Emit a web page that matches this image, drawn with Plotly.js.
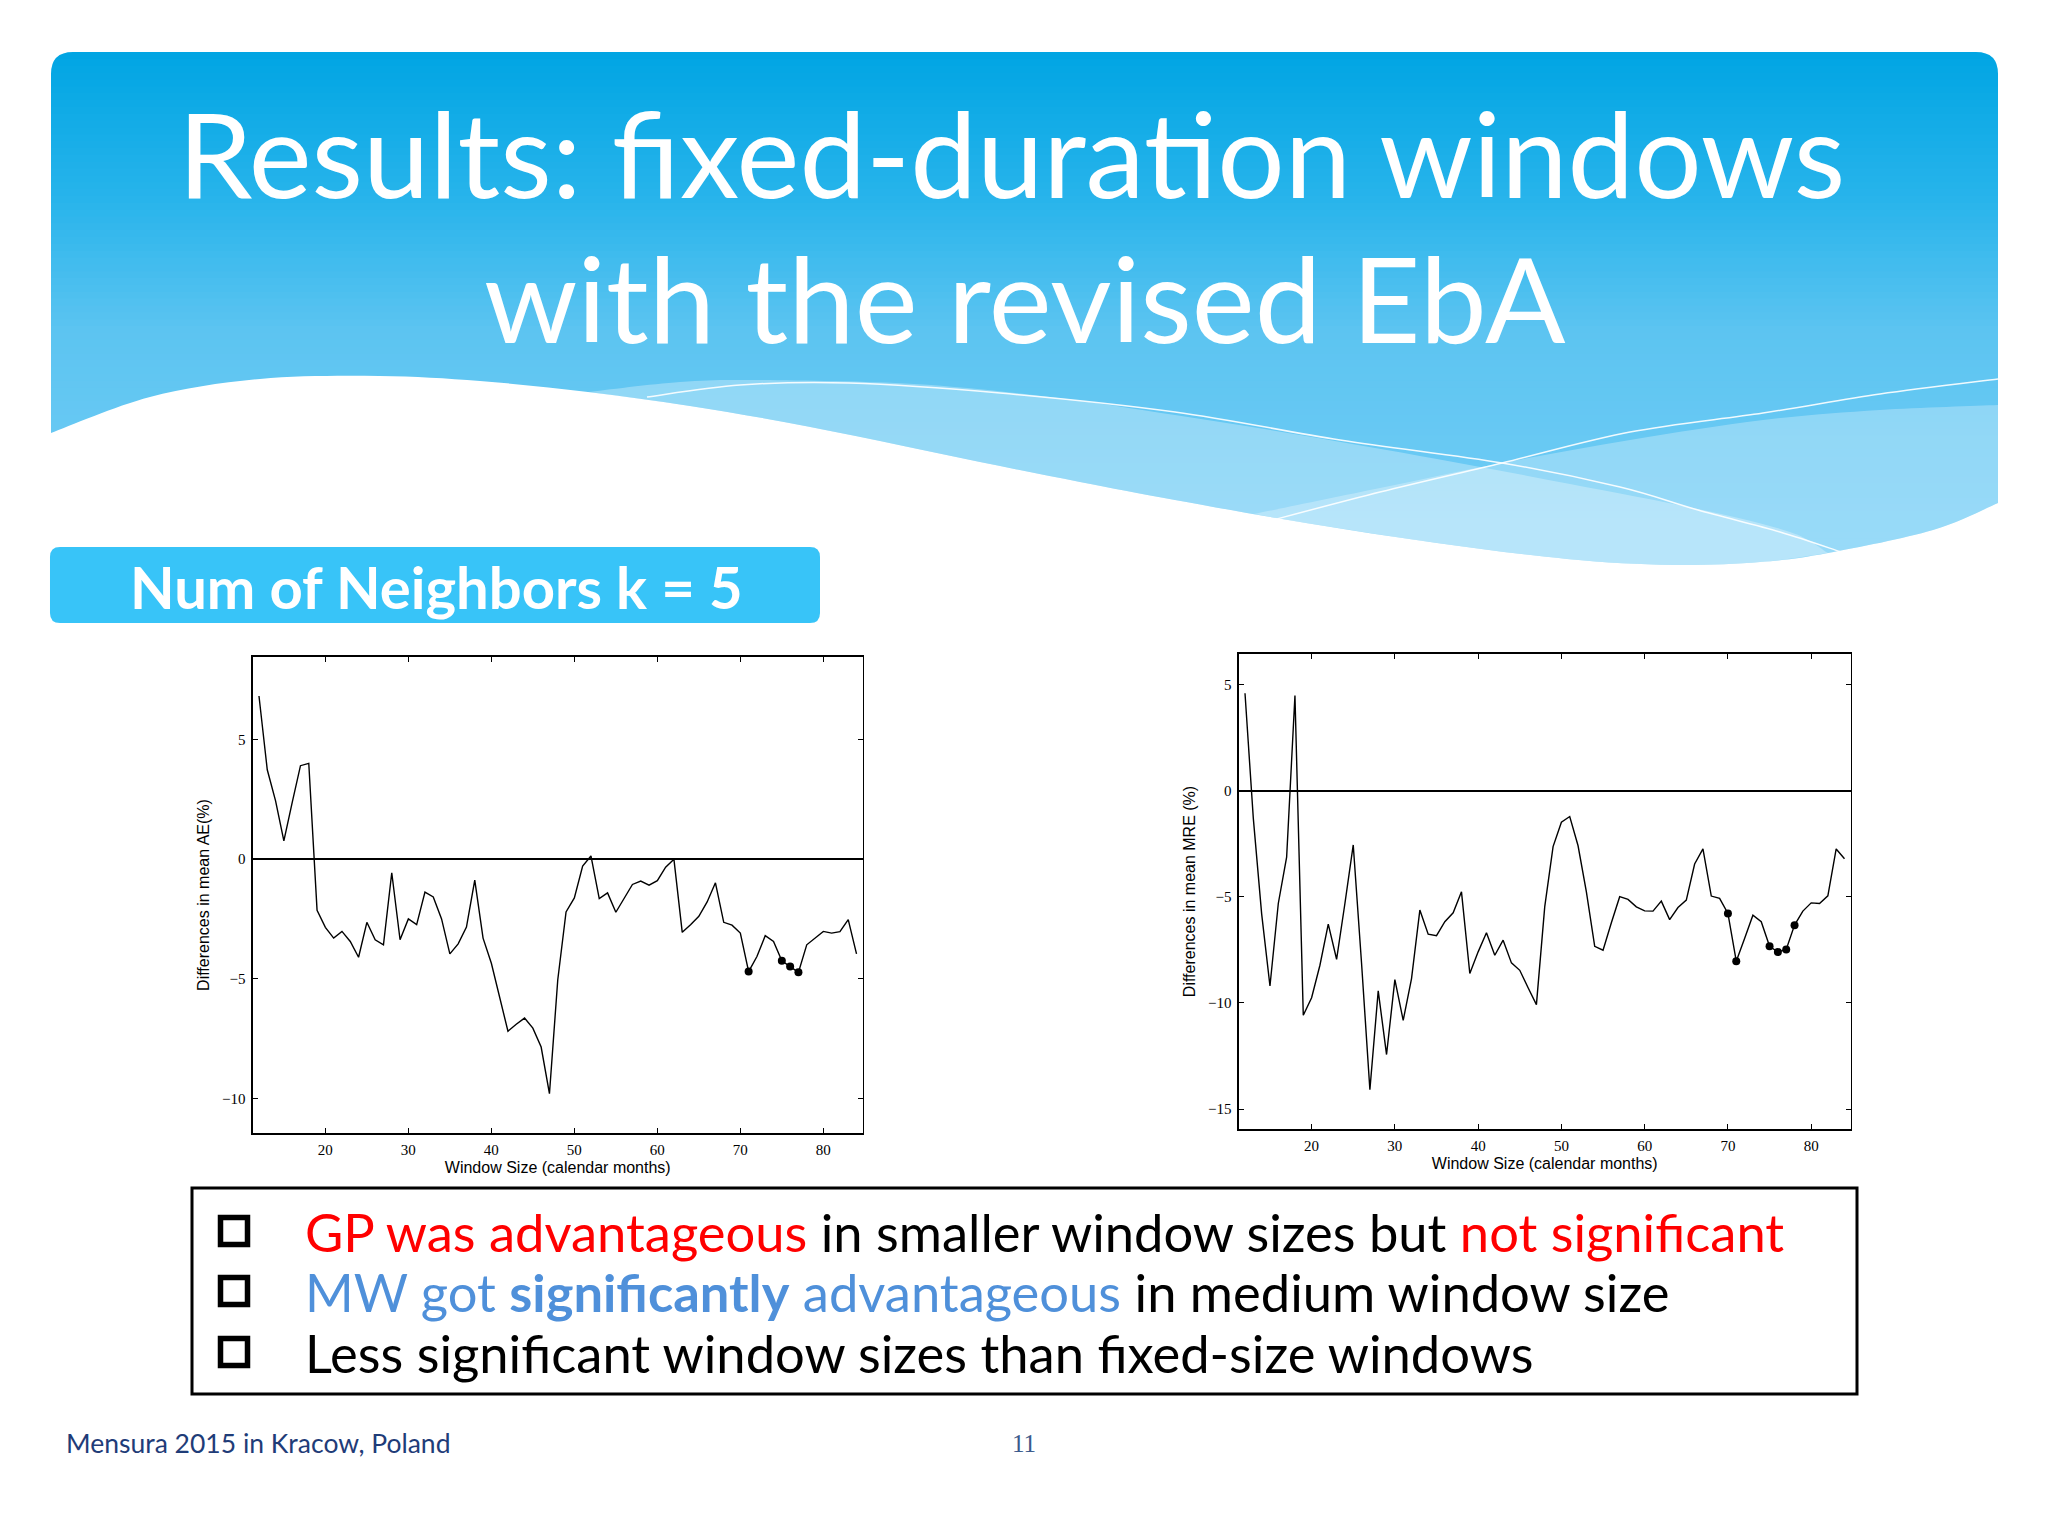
<!DOCTYPE html>
<html>
<head>
<meta charset="utf-8">
<script src="https://cdn.plot.ly/plotly-3.0.1.min.js"></script>
<style>
  html, body { margin: 0; padding: 0; background: #ffffff; }
  #chart { width: 2048px; height: 1536px; }
</style>
</head>
<body>
<div id="chart"></div>
<script>
// ---------------- DATA ----------------
const windowSizes = [12,13,14,15,16,17,18,19,20,21,22,23,24,25,26,27,28,29,30,31,32,33,34,35,36,37,38,39,40,41,42,43,44,45,46,47,48,49,50,51,52,53,54,55,56,57,58,59,60,61,62,63,64,65,66,67,68,69,70,71,72,73,74,75,76,77,78,79,80,81,82,83,84];

// Differences in mean AE (%)
const aeDiff = [6.81,3.73,2.43,0.76,2.36,3.90,4.00,-2.14,-2.85,-3.30,-3.02,-3.44,-4.10,-2.64,-3.37,-3.58,-0.57,-3.37,-2.50,-2.74,-1.38,-1.58,-2.50,-3.96,-3.54,-2.84,-0.88,-3.30,-4.35,-5.82,-7.19,-6.90,-6.64,-7.06,-7.85,-9.80,-5.05,-2.21,-1.62,-0.29,0.13,-1.65,-1.41,-2.22,-1.62,-1.06,-0.92,-1.09,-0.90,-0.34,-0.01,-3.06,-2.74,-2.39,-1.79,-0.99,-2.64,-2.76,-3.09,-4.70,-4.07,-3.20,-3.44,-4.25,-4.49,-4.73,-3.58,-3.30,-3.02,-3.09,-3.03,-2.53,-3.96];
const aeSignificant = [71,75,76,77];

// Differences in mean MRE (%)
const mreDiff = [4.60,-1.30,-5.80,-9.20,-5.31,-3.13,4.49,-10.58,-9.75,-8.22,-6.28,-7.94,-5.31,-2.55,-8.14,-14.09,-9.43,-12.43,-8.90,-10.82,-8.85,-5.62,-6.76,-6.83,-6.17,-5.75,-4.76,-8.61,-7.59,-6.69,-7.75,-7.04,-8.11,-8.46,-9.28,-10.08,-5.46,-2.63,-1.48,-1.21,-2.59,-4.76,-7.33,-7.51,-6.22,-4.99,-5.12,-5.47,-5.66,-5.67,-5.20,-6.07,-5.50,-5.15,-3.45,-2.74,-4.96,-5.07,-5.78,-8.03,-6.96,-5.86,-6.17,-7.33,-7.60,-7.48,-6.33,-5.67,-5.28,-5.31,-4.95,-2.74,-3.20];
const mreSignificant = [70,71,75,76,77,78];

const xTicks = [20,30,40,50,60,70,80];
const aeTicks = [-10,-5,0,5];
const mreTicks = [-15,-10,-5,0,5];

const titleLine1 = 'Results: fixed-duration windows';
const titleLine2 = 'with the revised EbA';
const sectionLabel = 'Num of Neighbors k = 5';
const aeAxisTitle = 'Differences in mean AE(%)';
const mreAxisTitle = 'Differences in mean MRE (%)';
const xAxisTitle = 'Window Size (calendar months)';
const footerText = 'Mensura 2015 in Kracow, Poland';
const pageNumber = '11';

// ---------------- HELPERS ----------------
const W = 2048, H = 1536;
const px = x => x / W;
const py = y => 1 - y / H;
const pt = (x, y) => px(x).toFixed(5) + ',' + py(y).toFixed(5);

function smoothPath(points, start) {
  // Catmull-Rom -> cubic Bezier
  let d = (start ? 'M' : 'L') + pt(points[0][0], points[0][1]);
  for (let i = 0; i < points.length - 1; i++) {
    const p0 = points[Math.max(0, i - 1)];
    const p1 = points[i];
    const p2 = points[i + 1];
    const p3 = points[Math.min(points.length - 1, i + 2)];
    const c1 = [p1[0] + (p2[0] - p0[0]) / 6, p1[1] + (p2[1] - p0[1]) / 6];
    const c2 = [p2[0] - (p3[0] - p1[0]) / 6, p2[1] - (p3[1] - p1[1]) / 6];
    d += ' C' + pt(c1[0], c1[1]) + ' ' + pt(c2[0], c2[1]) + ' ' + pt(p2[0], p2[1]);
  }
  return d;
}

const shapes = [];

// Banner gradient strips
const bx0 = 51, bx1 = 1998, by0 = 52, by1 = 600;
const stops = [[52, [0,165,227]], [200, [40,180,235]], [330, [92,196,241]], [520, [112,204,245]], [600, [115,205,245]]];
function colorAt(y) {
  for (let i = 0; i < stops.length - 1; i++) {
    const [ya, ca] = stops[i], [yb, cb] = stops[i + 1];
    if (y >= ya && y <= yb) {
      const t = (y - ya) / (yb - ya);
      return 'rgb(' + ca.map((c, k) => Math.round(c + (cb[k] - c) * t)).join(',') + ')';
    }
  }
  return 'rgb(115,205,245)';
}
const nStrips = 80;
for (let i = 0; i < nStrips; i++) {
  const y0 = by0 + (by1 - by0) * i / nStrips;
  const y1 = by0 + (by1 - by0) * (i + 1) / nStrips + 0.8;
  shapes.push({type:'rect', xref:'paper', yref:'paper', layer:'below',
    x0: px(bx0), x1: px(bx1), y0: py(y0), y1: py(Math.min(y1, by1)),
    fillcolor: colorAt((y0 + y1) / 2), line: {width: 0}});
}
// rounded top corners (white masks)
const r = 22;
shapes.push({type:'path', xref:'paper', yref:'paper', layer:'below', fillcolor:'#ffffff', line:{width:0},
  path: 'M' + pt(bx0 - 1, by0 - 1) + ' L' + pt(bx0 + r, by0 - 1) + ' L' + pt(bx0 + r, by0) + ' Q' + pt(bx0, by0) + ' ' + pt(bx0, by0 + r) + ' L' + pt(bx0 - 1, by0 + r) + ' Z'});
shapes.push({type:'path', xref:'paper', yref:'paper', layer:'below', fillcolor:'#ffffff', line:{width:0},
  path: 'M' + pt(bx1 + 1, by0 - 1) + ' L' + pt(bx1 - r, by0 - 1) + ' L' + pt(bx1 - r, by0) + ' Q' + pt(bx1, by0) + ' ' + pt(bx1, by0 + r) + ' L' + pt(bx1 + 1, by0 + r) + ' Z'});

// wave geometry
const whiteEdge = [[51,433],[150,397],[260,379],[379,376],[480,381],[588,392],[690,406],[784,422],[880,441],[980,462],[1080,482],[1175,500],[1306,523],[1437,543],[1567,559],[1672,565],[1760,562],[1828,553],[1933,530],[1998,503]];
const band1Top = [[588,392],[680,382],[757,380],[914,384],[1050,397],[1175,415],[1300,435],[1437,459],[1570,484],[1698,509],[1790,532],[1828,553]];
const band2Top = [[1254,514],[1380,488],[1502,463],[1630,440],[1763,420],[1880,410],[1998,405]];
const lineA = [[647,397],[740,385],[849,383],[1000,393],[1175,412],[1340,440],[1502,463],[1620,487],[1698,510],[1780,532],[1841,552]];
const lineB = [[1254,525],[1380,492],[1502,463],[1630,432],[1763,413],[1880,394],[1998,379]];

function subEdge(x0, x1) { return whiteEdge.filter(p => p[0] >= x0 && p[0] <= x1); }

// band 1 (pale)
{
  const back = subEdge(588, 1828).slice().reverse();
  let d = smoothPath(band1Top, true) + ' ' + smoothPath(back, false) + ' Z';
  shapes.push({type:'path', xref:'paper', yref:'paper', layer:'below', fillcolor:'rgba(255,255,255,0.30)', line:{width:0}, path:d});
}
// band 2 (pale, right)
{
  const back = subEdge(1254, 1998).slice().reverse();
  let d = smoothPath(band2Top, true) + ' ' + smoothPath(back.concat([[1254,514]]), false) + ' Z';
  shapes.push({type:'path', xref:'paper', yref:'paper', layer:'below', fillcolor:'rgba(255,255,255,0.28)', line:{width:0}, path:d});
}
// white wave region
{
  let d = smoothPath(whiteEdge, true) + ' L' + pt(2000, 505) + ' L' + pt(2000, 610) + ' L' + pt(49, 610) + ' L' + pt(49, 433) + ' Z';
  shapes.push({type:'path', xref:'paper', yref:'paper', layer:'below', fillcolor:'#ffffff', line:{width:0}, path:d});
}
// thin white lines
shapes.push({type:'path', xref:'paper', yref:'paper', layer:'below', line:{color:'rgba(255,255,255,0.9)', width:1.5}, path: smoothPath(lineA, true)});
shapes.push({type:'path', xref:'paper', yref:'paper', layer:'below', line:{color:'rgba(255,255,255,0.9)', width:1.5}, path: smoothPath(lineB, true)});

// section label box
shapes.push({type:'path', xref:'paper', yref:'paper', layer:'below', fillcolor:'#38c4f8', line:{width:0},
  path: 'M' + pt(60,547) + ' L' + pt(810,547) + ' Q' + pt(820,547) + ' ' + pt(820,557) + ' L' + pt(820,613) + ' Q' + pt(820,623) + ' ' + pt(810,623) +
        ' L' + pt(60,623) + ' Q' + pt(50,623) + ' ' + pt(50,613) + ' L' + pt(50,557) + ' Q' + pt(50,547) + ' ' + pt(60,547) + ' Z'});

// bullet text box
shapes.push({type:'rect', xref:'paper', yref:'paper', layer:'above', x0:px(192), x1:px(1857), y0:py(1188), y1:py(1394), line:{color:'#000000', width:3}, fillcolor:'rgba(0,0,0,0)'});
// bullet squares
[1231, 1291, 1352].forEach(cy => {
  shapes.push({type:'rect', xref:'paper', yref:'paper', layer:'above', x0:px(220.5), x1:px(247.5), y0:py(cy - 13.5), y1:py(cy + 13.5), line:{color:'#000000', width:5.5}, fillcolor:'rgba(0,0,0,0)'});
});

// ---------------- TRACES ----------------
function pick(xs, ys, sel) { return sel.map(v => ys[xs.indexOf(v)]); }

const traces = [
  {x: windowSizes, y: aeDiff, type:'scatter', mode:'lines', line:{color:'#000000', width:1.4}, xaxis:'x', yaxis:'y', hoverinfo:'skip'},
  {x: aeSignificant, y: pick(windowSizes, aeDiff, aeSignificant), type:'scatter', mode:'markers', marker:{color:'#000000', size:8}, xaxis:'x', yaxis:'y'},
  {x: windowSizes, y: mreDiff, type:'scatter', mode:'lines', line:{color:'#000000', width:1.4}, xaxis:'x2', yaxis:'y2', hoverinfo:'skip'},
  {x: mreSignificant, y: pick(windowSizes, mreDiff, mreSignificant), type:'scatter', mode:'markers', marker:{color:'#000000', size:8}, xaxis:'x2', yaxis:'y2'}
];

// ---------------- AXES ----------------
const tickFont = {family:'Liberation Serif, DejaVu Serif, serif', size:15, color:'#000000'};
const titleFont = {family:'Liberation Sans, Arial, sans-serif', size:16, color:'#000000'};
function xAxis(d0, d1, anchor) {
  return {domain:[px(d0), px(d1)], anchor:anchor, range:[11.28, 84.72], tickvals:xTicks, ticktext:xTicks.map(String),
    showline:true, linecolor:'#000000', linewidth:1.6, mirror:'allticks', ticks:'inside', ticklen:5, tickwidth:1, tickcolor:'#000000',
    showgrid:false, zeroline:false, tickfont:tickFont, ticklabelstandoff:2,
    title:{text:xAxisTitle, font:titleFont, standoff:5}};
}
function yAxis(d0, d1, anchor, range, ticks, ttl, so) {
  return {domain:[py(d1), py(d0)], anchor:anchor, range:range, tickvals:ticks, ticktext:ticks.map(v => v < 0 ? '\u2212' + Math.abs(v) : String(v)),
    showline:true, linecolor:'#000000', linewidth:1.6, mirror:'allticks', ticks:'inside', ticklen:5, tickwidth:1, tickcolor:'#000000',
    showgrid:false, zeroline:true, zerolinecolor:'#000000', zerolinewidth:1.6, tickfont:tickFont, ticklabelstandoff:3,
    title:{text:ttl, font:titleFont, standoff:so}};
}

const layout = {
  width: W, height: H,
  margin:{l:0, r:0, t:0, b:0, pad:0},
  paper_bgcolor:'#ffffff', plot_bgcolor:'rgba(0,0,0,0)',
  showlegend:false,
  xaxis: xAxis(253, 862.5, 'y'),
  yaxis: yAxis(657, 1133, 'x', [-11.44, 8.44], aeTicks, aeAxisTitle, 8),
  xaxis2: xAxis(1239, 1850.5, 'y2'),
  yaxis2: yAxis(654, 1129, 'x2', [-15.94, 6.45], mreTicks, mreAxisTitle, 8),
  shapes: shapes,
  annotations: [
    {text:titleLine1, xref:'paper', yref:'paper', x:px(1011), y:py(152), xanchor:'center', yanchor:'middle', showarrow:false,
     font:{family:'Lato, Open Sans, sans-serif', size:119, color:'#ffffff'}},
    {text:titleLine2, xref:'paper', yref:'paper', x:px(1025), y:py(297), xanchor:'center', yanchor:'middle', showarrow:false,
     font:{family:'Lato, Open Sans, sans-serif', size:119, color:'#ffffff'}},
    {text:'<b>' + sectionLabel + '</b>', xref:'paper', yref:'paper', x:px(128), y:py(587), xanchor:'left', yanchor:'middle', showarrow:false,
     font:{family:'Lato, Open Sans, sans-serif', size:58, color:'#ffffff'}},
    {text:'<span style="color:#ff0000">GP was advantageous</span> in smaller window sizes but <span style="color:#ff0000">not significant</span>',
     xref:'paper', yref:'paper', x:px(303), y:py(1231), xanchor:'left', yanchor:'middle', showarrow:false,
     font:{family:'Lato, Open Sans, sans-serif', size:52.5, color:'#000000'}},
    {text:'<span style="color:#4f90da">MW got <b>significantly</b> advantageous</span> in medium window size',
     xref:'paper', yref:'paper', x:px(303), y:py(1291), xanchor:'left', yanchor:'middle', showarrow:false,
     font:{family:'Lato, Open Sans, sans-serif', size:52.5, color:'#000000'}},
    {text:'Less significant window sizes than fixed-size windows',
     xref:'paper', yref:'paper', x:px(303), y:py(1352), xanchor:'left', yanchor:'middle', showarrow:false,
     font:{family:'Lato, Open Sans, sans-serif', size:52.5, color:'#000000'}},
    {text:footerText, xref:'paper', yref:'paper', x:px(64), y:py(1443), xanchor:'left', yanchor:'middle', showarrow:false,
     font:{family:'Lato, Open Sans, sans-serif', size:26.5, color:'#1f3c78'}},
    {text:pageNumber, xref:'paper', yref:'paper', x:px(1024), y:py(1443), xanchor:'center', yanchor:'middle', showarrow:false,
     font:{family:'Liberation Serif, serif', size:25, color:'#3b5a8c'}}
  ]
};

Plotly.newPlot('chart', traces, layout, {staticPlot:true, displayModeBar:false});
</script>
</body>
</html>
